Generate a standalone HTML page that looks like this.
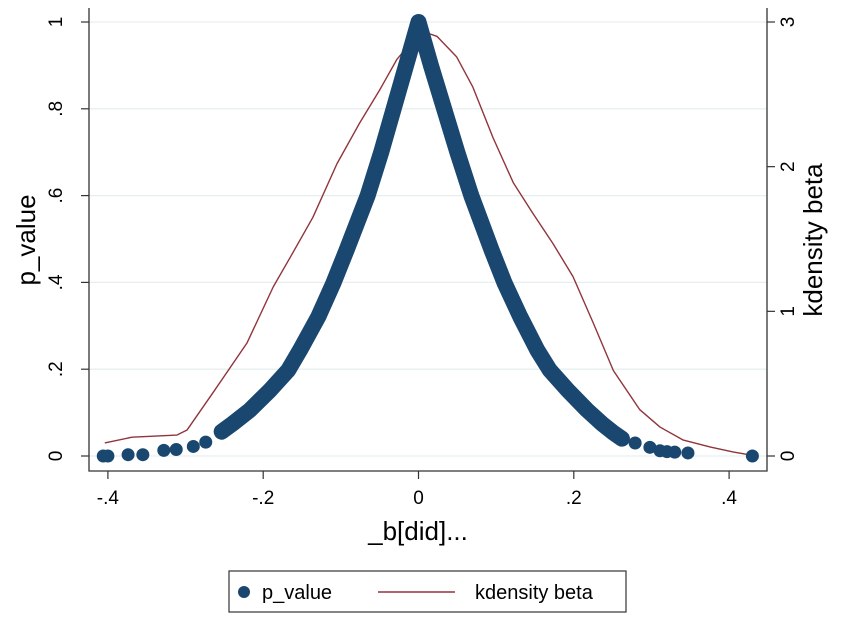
<!DOCTYPE html>
<html><head><meta charset="utf-8"><style>
html,body{margin:0;padding:0;background:#fff;}
svg{display:block;font-family:"Liberation Sans",Arial,sans-serif;}
</style></head><body>
<svg id="chart" width="851" height="621" viewBox="0 0 851 621">
<g id="grid"></g>
<g id="kd"></g>
<g id="pts"></g>
<g id="axes"></g>
<text x="35" y="240" font-size="26" text-anchor="middle" transform="rotate(-90 35 240)">p_value</text>
<text x="822" y="240" font-size="26" text-anchor="middle" transform="rotate(-90 822 240)">kdensity beta</text>
<text x="418" y="540" font-size="26" text-anchor="middle">_b[did]...</text>
<g>
<rect x="229" y="571" width="397" height="41" fill="#fff" stroke="#333" stroke-width="1.2"/>
<circle cx="244" cy="592" r="6" fill="#1a476f"/>
<text x="262" y="599" font-size="20">p_value</text>
<line x1="378" y1="592" x2="455" y2="592" stroke="#90353b" stroke-width="1.5"/>
<text x="475" y="599" font-size="20">kdensity beta</text>
</g>
</svg>
<script>
const xTicks = [-0.4, -0.2, 0, 0.2, 0.4];
const xTickLabels = ["-.4", "-.2", "0", ".2", ".4"];
const yTicks = [0, 0.2, 0.4, 0.6, 0.8, 1];
const yTickLabels = ["0", ".2", ".4", ".6", ".8", "1"];
const y2Ticks = [0, 1, 2, 3];
const y2TickLabels = ["0", "1", "2", "3"];
// p_value dense band (centerline) and isolated points
const bandBeta = [-0.2535, -0.239, -0.217, -0.191, -0.1677, -0.1526, -0.129, -0.1097, -0.0925, -0.0655, -0.048, -0.032, -0.016, 0, 0.016, 0.033, 0.05, 0.068, 0.094, 0.111, 0.131, 0.153, 0.169, 0.192, 0.217, 0.236, 0.25, 0.262];
const bandP = [0.056, 0.075, 0.106, 0.152, 0.198, 0.244, 0.321, 0.398, 0.475, 0.6, 0.7, 0.8, 0.9, 1, 0.9, 0.8, 0.7, 0.6, 0.475, 0.398, 0.321, 0.244, 0.198, 0.152, 0.106, 0.075, 0.055, 0.04];
const isoBeta = [-0.406, -0.4, -0.374, -0.355, -0.328, -0.312, -0.29, -0.274, 0.279, 0.298, 0.311, 0.32, 0.33, 0.347, 0.43];
const isoP = [0, 0, 0.003, 0.003, 0.013, 0.015, 0.022, 0.032, 0.03, 0.02, 0.012, 0.01, 0.009, 0.007, 0];
// kdensity
const kdBeta = [-0.404, -0.369, -0.311, -0.298, -0.265, -0.221, -0.187, -0.165, -0.136, -0.105, -0.076, -0.05, -0.028, -0.007, 0.008, 0.024, 0.049, 0.07, 0.096, 0.122, 0.147, 0.173, 0.199, 0.225, 0.251, 0.285, 0.311, 0.341, 0.376, 0.405, 0.427];
const kdDens = [0.09, 0.13, 0.145, 0.18, 0.435, 0.78, 1.17, 1.375, 1.65, 2.02, 2.30, 2.53, 2.74, 2.875, 2.93, 2.90, 2.76, 2.55, 2.2, 1.89, 1.68, 1.47, 1.24, 0.92, 0.59, 0.32, 0.2, 0.11, 0.062, 0.028, 0.007];

const NS = "http://www.w3.org/2000/svg";
const L = 89, R = 767, B = 471, T = 8;
const xs = b => 418.5 + b * 776.5;
const ys = p => 456 - p * 434;
const y2s = d => 456 - d * 144.67;
function mk(tag, attrs, parent) {
  const e = document.createElementNS(NS, tag);
  for (const k in attrs) e.setAttribute(k, attrs[k]);
  parent.appendChild(e);
  return e;
}
const grid = document.getElementById('grid');
const axes = document.getElementById('axes');
yTicks.forEach((v, i) => {
  const y = ys(v);
  const g = mk('line', {x1: L, x2: R, y1: y, y2: y, stroke: '#e6efef', 'stroke-width': 1.3}, grid);
  
  
  const t = mk('line', {x1: L - 8, x2: L, y1: y, y2: y, stroke: '#333', 'stroke-width': 1.2}, axes);
  
  
  const tx = mk('text', {x: 62, y: y, 'font-size': 19, 'text-anchor': 'middle', transform: `rotate(-90 62 ${y})`}, axes);
  tx.textContent = yTickLabels[i];
  
  
});
y2Ticks.forEach((v, i) => {
  const y = y2s(v);
  const t = mk('line', {x1: R, x2: R + 8, y1: y, y2: y, stroke: '#333', 'stroke-width': 1.2}, axes);
  
  
  const tx = mk('text', {x: 794, y: y, 'font-size': 19, 'text-anchor': 'middle', transform: `rotate(-90 794 ${y})`}, axes);
  tx.textContent = y2TickLabels[i];
  
  
});
xTicks.forEach((v, i) => {
  const x = xs(v);
  const t = mk('line', {x1: x, x2: x, y1: B, y2: B + 8, stroke: '#333', 'stroke-width': 1.2}, axes);
  
  
  const tx = mk('text', {x: x, y: 504, 'font-size': 19, 'text-anchor': 'middle'}, axes);
  tx.textContent = xTickLabels[i];
  
  
});
const a1 = mk('path', {d: `M${L} ${T} V${B} H${R} V${T}`, fill: 'none', stroke: '#333', 'stroke-width': 1.3}, axes);



const kd = document.getElementById('kd');
const kp = mk('polyline', {points: kdBeta.map((b, i) => xs(b) + ',' + y2s(kdDens[i])).join(' '), fill: 'none', stroke: '#90353b', 'stroke-width': 1.4, 'stroke-linejoin': 'round'}, kd);



const pts = document.getElementById('pts');
const band = mk('polyline', {points: bandBeta.map((b, i) => xs(b) + ',' + ys(bandP[i])).join(' '), fill: 'none', stroke: '#1a476f', 'stroke-width': 16, 'stroke-linejoin': 'round', 'stroke-linecap': 'round'}, pts);


bandBeta.forEach((b, i) => {
  const c = mk('circle', {cx: xs(b), cy: ys(bandP[i]), r: 6.5, fill: '#1a476f'}, pts);
  
  
});
isoBeta.forEach((b, i) => {
  const c = mk('circle', {cx: xs(b), cy: ys(isoP[i]), r: 6.5, fill: '#1a476f'}, pts);
  
  
});
</script>
</body></html>
